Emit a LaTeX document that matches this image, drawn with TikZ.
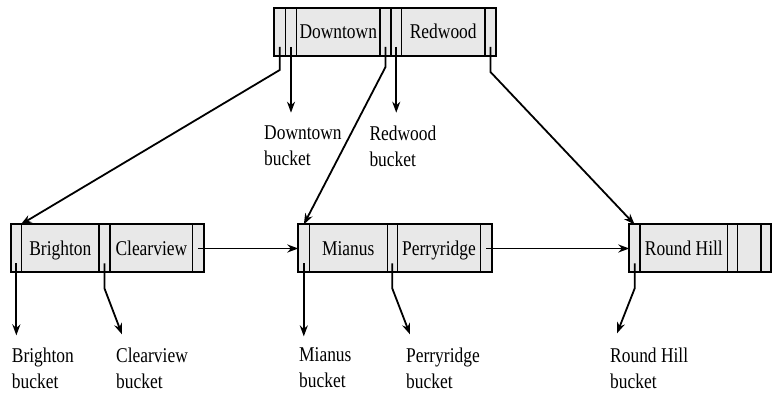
\documentclass[tikz,border=0pt]{standalone}
\usepackage{fontspec}
\setmainfont{Liberation Serif}[FakeStretch=0.83]
\usetikzlibrary{positioning,calc,arrows.meta}

\begin{document}
\begin{tikzpicture}[x=1pt,y=1pt,
    >={Stealth[length=11pt,width=8pt]},
    font=\fontsize{21}{26}\selectfont,
    slot/.style={draw,line width=1.3pt,fill=black!9,inner sep=0pt,outer sep=0pt,
                 minimum height=48pt,minimum width=#1,text height=14pt,text depth=0pt},
    nodeframe/.style={draw,line width=2pt},
    link/.style={->,line width=1.8pt},
    bucket/.style={align=left,inner sep=0pt,anchor=north west}]
   \useasboundingbox (0,0) rectangle (777,396);

   % root
   \node[slot=11.5pt,anchor=west] (t0) at (274,364) {};
   \node[slot=11pt,right=0pt of t0] (t1) {};
   \node[slot=83.5pt,right=0pt of t1] (downtown) {Downtown};
   \node[slot=11pt,right=0pt of downtown] (t2) {};
   \node[slot=10.5pt,right=0pt of t2] (t3) {};
   \node[slot=83.5pt,right=0pt of t3] (redwood) {Redwood};
   \node[slot=11pt,right=0pt of redwood] (t4) {};
   \draw[nodeframe] (t0.north west) rectangle (t4.south east);

   % leaves
   \node[slot=10.7pt,anchor=west] (b0) at (11,147.5) {};
   \node[slot=77.3pt,right=0pt of b0] (brighton) {Brighton};
   \node[slot=11pt,right=0pt of brighton] (b1) {};
   \node[slot=82.7pt,right=0pt of b1] (clearview) {Clearview};
   \node[slot=11.3pt,right=0pt of clearview] (b2) {};
   \draw[nodeframe] (b0.north west) rectangle (b2.south east);

   \node[slot=11pt,anchor=west] (m0) at (298.3,147.5) {};
   \node[slot=78pt,right=0pt of m0] (mianus) {Mianus};
   \node[slot=10pt,right=0pt of mianus] (m1) {};
   \node[slot=83.4pt,right=0pt of m1] (perryridge) {Perryridge};
   \node[slot=11pt,right=0pt of perryridge] (m2) {};
   \draw[nodeframe] (m0.north west) rectangle (m2.south east);

   \node[slot=10.7pt,anchor=west] (r0) at (629.3,147.5) {};
   \node[slot=87.7pt,right=0pt of r0] (roundhill) {Round Hill};
   \node[slot=10pt,right=0pt of roundhill] (r1) {};
   \node[slot=23.3pt,right=0pt of r1] (rempty) {};
   \node[slot=10pt,right=0pt of rempty] (r2) {};
   \draw[nodeframe] (r0.north west) rectangle (r2.south east);

   % buckets
   \node[bucket] (dtb) at (264,270.3) {Downtown\\bucket};
   \node[bucket] (rwb) at (369.3,270.3) {Redwood\\bucket};
   \node[bucket] (brb) at (11.7,48.6) {Brighton\\bucket};
   \node[bucket] (cvb) at (116,48.6) {Clearview\\bucket};
   \node[bucket] (mib) at (299,48.6) {Mianus\\bucket};
   \node[bucket] (prb) at (406,48.6) {Perryridge\\bucket};
   \node[bucket] (rhb) at (610,48.6) {Round Hill\\bucket};

   % root pointers
   \draw[link] ($(t0.south)+(0,9)$) -- ($(t0.south)+(0,-14)$) -- ([xshift=-1pt]b0.north east);
   \draw[link] ($(t1.south)+(0,9)$) -- ($(t1 |- dtb.north)+(0,13)$);
   \draw[link] ($(t2.south)+(0,9)$) -- ($(t2.south)+(0,-11)$) -- (m0.north);
   \draw[link] ($(t3.south)+(0,9)$) -- ($(t3 |- rwb.north)+(0,13)$);
   \draw[link] ($(t4.south)+(0,9)$) -- ($(t4.south)+(0,-16)$) -- (r0.north);

   % leaf pointers
   \draw[link] ($(b0.south)+(0,9)$) -- ($(b0 |- brb.north)+(0,12)$);
   \draw[link] ($(b1.south)+(0,9)$) -- ($(b1.south)+(0,-16)$) -- ($(cvb.north west)+(6,13)$);
   \draw[link] (b2.center) -- (m0.west);
   \draw[link] ($(m0.south)+(0,9)$) -- ($(m0 |- mib.north)+(0,11)$);
   \draw[link] ($(m1.south)+(0,9)$) -- ($(m1.south)+(0,-16)$) -- ($(prb.north west)+(4,13)$);
   \draw[link] (m2.center) -- (r0.west);
   \draw[link] ($(r0.south)+(0,9)$) -- ($(r0.south)+(0,-16)$) -- ($(rhb.north west)+(7,14)$);
 \end{tikzpicture}
\end{document}
